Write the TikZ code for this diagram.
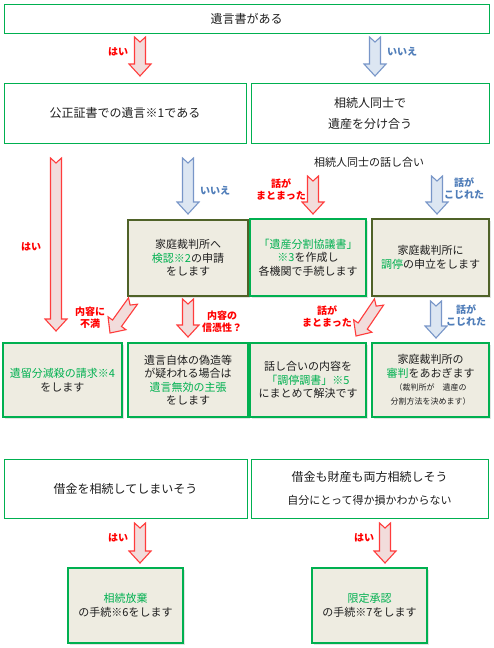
\documentclass[tikz,border=0pt]{standalone}
\usepackage{fontspec}
\setmainfont{Noto Sans CJK JP}
\usetikzlibrary{calc,shadows}
\definecolor{bgreen}{HTML}{00B050}
\definecolor{olivec}{HTML}{4F6228}
\definecolor{beige}{HTML}{EEECE1}
\definecolor{redline}{HTML}{FF3C3C}
\definecolor{redfill}{HTML}{F2DCDB}
\definecolor{redtext}{HTML}{FF0000}
\definecolor{blueline}{HTML}{7896C8}
\definecolor{bluefill}{HTML}{DCE6F2}
\definecolor{bluetext}{HTML}{4F7DB9}
\definecolor{txt}{HTML}{1E1E1E}
\newcommand{\gr}[1]{\textcolor{bgreen}{#1}}
\newcommand{\blockarr}[3]{%
  \path let \p1=($(#3)-(#2)$) in \pgfextra{%
    \pgfmathsetmacro\barang{atan2(\y1,\x1)}%
    \pgfmathsetmacro\barlen{veclen(\x1,\y1)}%
    \pgfmathsetmacro\barhd{\barlen-12}%
    \global\let\barang\barang\global\let\barlen\barlen\global\let\barhd\barhd};
  \begin{scope}[shift={(#2)},rotate=\barang]
    \draw[#1] (0pt,5.5pt) -- (\barhd pt,5.5pt) -- (\barhd pt,11pt) -- (\barlen pt,0pt)
      -- (\barhd pt,-11pt) -- (\barhd pt,-5.5pt) -- (0pt,-5.5pt) -- (5pt,0pt) -- cycle;
  \end{scope}}
\tikzset{
  plainbox/.style={draw=bgreen, line width=0.9pt, fill=white, inner sep=0pt, align=center,
    text=txt, font=\fontsize{12}{21}\selectfont},
  actbox/.style={line width=2.5pt, fill=beige, inner sep=0pt, align=center, text=txt,
    font=\fontsize{11}{13.5}\selectfont,
    drop shadow={shadow xshift=1.5pt, shadow yshift=-1.5pt, opacity=0.22}},
  gbox/.style={actbox, draw=bgreen},
  obox/.style={actbox, draw=olivec},
  redlab/.style={text=redtext, font=\bfseries\fontsize{10}{12}\selectfont, align=center, inner sep=0pt},
  bluelab/.style={text=bluetext, font=\bfseries\fontsize{10}{12}\selectfont, align=center, inner sep=0pt},
  redarr/.style={draw=redline, fill=redfill, line width=1.1pt, line join=miter},
  bluearr/.style={draw=blueline, fill=bluefill, line width=1.1pt, line join=miter}
}
\begin{document}
\begin{tikzpicture}[x=1pt,y=-1pt]
\useasboundingbox[fill=white] (0,0) rectangle (494,648);

% boxes
\node[plainbox, minimum width=485pt, minimum height=29pt] (top) at (246.5,18.5) {遺言書がある};
\node[plainbox, minimum width=242pt, minimum height=60pt] (kosei) at (125,113) {公正証書での遺言※1である};
\node[plainbox, minimum width=238pt, minimum height=60pt] (wake) at (370,113) {相続人同士で\\遺産を分け合う};
\node[obox, minimum width=120pt, minimum height=76pt] (kenin) at (188,258) {家庭裁判所へ\\\gr{検認※2}の申請\\をします};
\node[gbox, minimum width=116pt, minimum height=77pt] (kyogi) at (308,257.5) {\gr{「遺産分割協議書」}\\\gr{※3}を作成し\\各機関で手続します};
\node[obox, minimum width=117pt, minimum height=77pt] (chotei) at (430.5,257.5) {家庭裁判所に\\\gr{調停}の申立をします};
\node[gbox, minimum width=119pt, minimum height=74pt] (iryu) at (62.5,380) {\gr{遺留分減殺の請求※4}\\をします};
\node[gbox, minimum width=120pt, minimum height=74pt] (mukou) at (188,380) {遺言自体の偽造等\\が疑われる場合は\\\gr{遺言無効の主張}\\をします};
\node[gbox, minimum width=116pt, minimum height=74pt] (chosho) at (308,380) {話し合いの内容を\\\gr{「調停調書」※5}\\にまとめて解決です};
\node[gbox, minimum width=117pt, minimum height=74pt] (shinpan) at (430.5,380) {家庭裁判所の\\\gr{審判}をあおぎます\\{\fontsize{8}{10}\selectfont （裁判所が　遺産の}\\{\fontsize{8}{10}\selectfont 分割方法を決めます）}};
\node[plainbox, minimum width=243pt, minimum height=59pt] (shakkin) at (125.5,488.5) {借金を相続してしまいそう};
\node[plainbox, minimum width=237pt, minimum height=59pt] (ryoho) at (369.5,488.5) {借金も財産も両方相続しそう\\[2pt]{\fontsize{11}{13}\selectfont 自分にとって得か損かわからない}};
\node[gbox, minimum width=115pt, minimum height=75pt] (hoki) at (125.5,605.5) {\gr{相続放棄}\\の手続※6をします};
\node[gbox, minimum width=115pt, minimum height=75pt] (gentei) at (369.5,605.5) {\gr{限定承認}\\の手続※7をします};

\node[text=txt, font=\fontsize{11}{13}\selectfont, inner sep=0pt] (talk) at (369,162) {相続人同士の話し合い};

% arrow anchor coordinates
\coordinate (a1s) at (140,37);  \coordinate (a1e) at (140,76);
\coordinate (a2s) at (375,37);  \coordinate (a2e) at (375,76);
\coordinate (a3s) at (56,158);  \coordinate (a3e) at (56,331);
\coordinate (a4s) at (188,158); \coordinate (a4e) at (188,214);
\coordinate (a5s) at (313,176); \coordinate (a5e) at (313,214);
\coordinate (a6s) at (437,176); \coordinate (a6e) at (437,214);
\coordinate (a7s) at (133,301); \coordinate (a7e) at (110,333);
\coordinate (a8s) at (188,299); \coordinate (a8e) at (188,337);
\coordinate (a9s) at (379,302); \coordinate (a9e) at (356,336);
\coordinate (a10s) at (436,301); \coordinate (a10e) at (436,338);
\coordinate (a11s) at (140,523); \coordinate (a11e) at (140,563);
\coordinate (a12s) at (385,523); \coordinate (a12e) at (385,563);

\blockarr{redarr}{a1s}{a1e}
\blockarr{bluearr}{a2s}{a2e}
\blockarr{redarr}{a3s}{a3e}
\blockarr{bluearr}{a4s}{a4e}
\blockarr{redarr}{a5s}{a5e}
\blockarr{bluearr}{a6s}{a6e}
\blockarr{redarr}{a7s}{a7e}
\blockarr{redarr}{a8s}{a8e}
\blockarr{redarr}{a9s}{a9e}
\blockarr{bluearr}{a10s}{a10e}
\blockarr{redarr}{a11s}{a11e}
\blockarr{redarr}{a12s}{a12e}

% labels
\node[redlab] (l1) at (118,52) {はい};
\node[bluelab] (l2) at (402,52) {いいえ};
\node[redlab] (l3) at (31,247) {はい};
\node[bluelab] (l4) at (215,191) {いいえ};
\node[redlab] (l5) at (281,189) {話が\\まとまった};
\node[bluelab] (l6) at (464,189) {話が\\こじれた};
\node[redlab] (l7) at (90,318) {内容に\\不満};
\node[redlab] (l8) at (222,322) {内容の\\信憑性？};
\node[redlab] (l9) at (327,316) {話が\\まとまった};
\node[bluelab] (l10) at (466,316) {話が\\こじれた};
\node[redlab] (l11) at (118,538) {はい};
\node[redlab] (l12) at (364,538) {はい};
\end{tikzpicture}
\end{document}
